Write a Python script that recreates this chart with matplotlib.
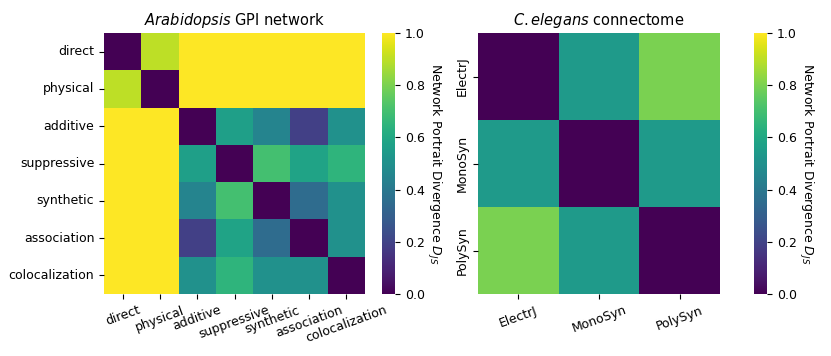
import numpy as np
import matplotlib
matplotlib.use("Agg")
import matplotlib.pyplot as plt
import seaborn as sns

gpi_labels = ["direct", "physical", "additive", "suppressive", "synthetic",
              "association", "colocalization"]
gpi_values = [
    [0.00, 0.90, 1.00, 1.00, 1.00, 1.00, 1.00],
    [0.90, 0.00, 1.00, 1.00, 1.00, 1.00, 1.00],
    [1.00, 1.00, 0.00, 0.56, 0.45, 0.19, 0.50],
    [1.00, 1.00, 0.56, 0.00, 0.70, 0.58, 0.65],
    [1.00, 1.00, 0.45, 0.70, 0.00, 0.35, 0.50],
    [1.00, 1.00, 0.19, 0.58, 0.35, 0.00, 0.50],
    [1.00, 1.00, 0.50, 0.65, 0.50, 0.50, 0.00],
]

worm_labels = ["ElectrJ", "MonoSyn", "PolySyn"]
worm_values = [
    [0.00, 0.54, 0.80],
    [0.54, 0.00, 0.54],
    [0.80, 0.54, 0.00],
]

cbar_label = "Network Portrait Divergence $D_{JS}$"

fig = plt.figure(figsize=(8.31, 3.56), dpi=100)
ax1 = fig.add_axes([104/831, 62/356, 261/831, 261/356])
cax1 = fig.add_axes([382/831, 62/356, 13/831, 261/356])
ax2 = fig.add_axes([478/831, 62/356, 242/831, 261/356])
cax2 = fig.add_axes([754/831, 62/356, 13/831, 261/356])

sns.heatmap(np.array(gpi_values), ax=ax1, cbar_ax=cax1, cmap="viridis",
            vmin=0, vmax=1, xticklabels=gpi_labels, yticklabels=gpi_labels)
ax1.set_title(r"$\it{Arabidopsis}$ GPI network", fontsize=10.5)
ax1.set_xticklabels(gpi_labels, rotation=20, fontsize=9)
ax1.set_yticklabels(gpi_labels, rotation=0, fontsize=9)

sns.heatmap(np.array(worm_values), ax=ax2, cbar_ax=cax2, cmap="viridis",
            vmin=0, vmax=1, xticklabels=worm_labels, yticklabels=worm_labels)
ax2.set_title(r"$\it{C. elegans}$ connectome", fontsize=10.5)
ax2.set_xticklabels(worm_labels, rotation=20, fontsize=9)
ax2.set_yticklabels(worm_labels, rotation=90, va="center", fontsize=9)

for cax in (cax1, cax2):
    cax.tick_params(labelsize=9)
    cax.set_ylabel(cbar_label, rotation=270, labelpad=13, fontsize=9)

fig.savefig("out.png", dpi=100)
